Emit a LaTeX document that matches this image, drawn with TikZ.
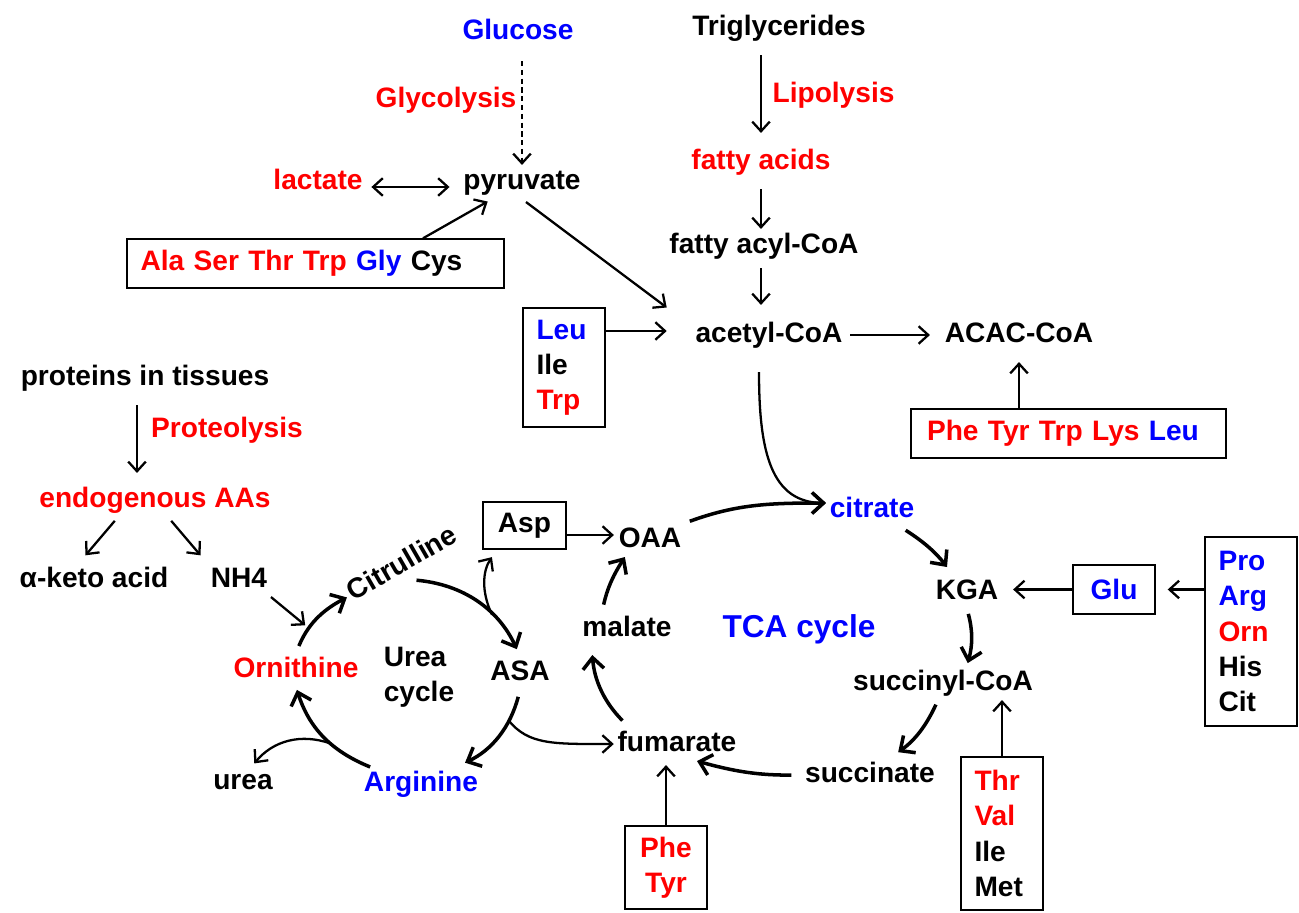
\documentclass[tikz,border=0pt]{standalone}
\usepackage{fontspec}
\setmainfont{Liberation Sans}
\usetikzlibrary{arrows.meta}

\begin{document}
\begin{tikzpicture}[x=1cm,y=1cm,
  font=\bfseries\fontsize{16}{20}\selectfont,
  >={Straight Barb[length=5.5pt,width=10pt]},
  lbl/.style={inner sep=2pt, text height=11.5pt, text depth=3.5pt},
  aabox/.style={draw, line width=0.8pt, inner xsep=0.27cm, inner ysep=0pt},
  flow/.style={line width=1.3pt, ->},
  cyc/.style={line width=2pt, -{Straight Barb[length=6.5pt,width=12pt]}}]
\useasboundingbox (0,0) rectangle (25.98,-18.24);

% sources at the top
\node[lbl, blue] (glucose) at (10.36,-0.64) {Glucose};
\node[lbl, red] (glycolysis) at (8.92,-2.0) {Glycolysis};
\node[lbl] (pyruvate) at (10.44,-3.64) {pyruvate};
\node[lbl, red] (lactate) at (6.36,-3.64) {lactate};
\node[aabox, text width=7.0cm, align=left, minimum height=0.98cm] (alabox) at (6.31,-5.27) {\textcolor{red}{Ala Ser Thr Trp} \textcolor{blue}{Gly} Cys};
\node[lbl] (triglycerides) at (15.58,-0.56) {Triglycerides};
\node[lbl, red] (lipolysis) at (16.67,-1.9) {Lipolysis};
\node[lbl, red] (fattyacids) at (15.22,-3.24) {fatty acids};
\node[lbl] (fattyacyl) at (15.28,-4.92) {fatty acyl-CoA};
\node[lbl] (acetylcoa) at (15.38,-6.7) {acetyl-CoA};
\node[lbl] (acaccoa) at (20.38,-6.7) {ACAC-CoA};
\node[aabox, text width=1.1cm, align=left, minimum height=2.38cm] (leubox) at (11.28,-7.35) {\textcolor{blue}{Leu}\\Ile\\\textcolor{red}{Trp}};
\node[aabox, inner xsep=0.32cm, text width=5.66cm, align=left, minimum height=0.98cm] (phebox) at (21.37,-8.67) {\textcolor{red}{Phe Tyr Trp Lys} \textcolor{blue}{Leu}};

% proteins
\node[lbl] (proteins) at (2.9,-7.56) {proteins in tissues};
\node[lbl, red] (proteolysis) at (4.54,-8.6) {Proteolysis};
\node[lbl, red] (endogenous) at (3.1,-10.0) {endogenous AAs};
\node[lbl] (ketoacid) at (1.88,-11.6) {α-keto acid};
\node[lbl] (nh4) at (4.78,-11.6) {NH4};

% urea cycle
\node[lbl, rotate=30] (citrulline) at (8.06,-11.3) {Citrulline};
\node[lbl, red] (ornithine) at (5.92,-13.4) {Ornithine};
\node[align=left, inner sep=0pt] (ureacycle) at (8.38,-13.54) {Urea\\cycle};
\node[lbl] (asa) at (10.4,-13.46) {ASA};
\node[lbl, blue] (arginine) at (8.42,-15.68) {Arginine};
\node[lbl] (urea) at (4.86,-15.64) {urea};
\node[aabox, text width=1.12cm, align=center, minimum height=0.94cm] (aspbox) at (10.49,-10.51) {Asp};

% TCA cycle
\node[lbl] (oaa) at (13.0,-10.8) {OAA};
\node[lbl, blue] (citrate) at (17.44,-10.2) {citrate};
\node[lbl] (kga) at (19.34,-11.84) {KGA};
\node[lbl] (succinylcoa) at (18.86,-13.66) {succinyl-CoA};
\node[lbl] (succinate) at (17.4,-15.5) {succinate};
\node[lbl] (fumarate) at (13.54,-14.88) {fumarate};
\node[lbl] (malate) at (12.54,-12.58) {malate};
\node[lbl, blue, font=\bfseries\fontsize{18}{22}\selectfont] (tca) at (15.98,-12.6) {TCA cycle};
\node[aabox, text width=1.1cm, align=center, minimum height=0.98cm] (glubox) at (22.28,-11.79) {\textcolor{blue}{Glu}};
\node[aabox, text width=1.3cm, align=left, minimum height=3.78cm] (probox) at (25.02,-12.63) {\textcolor{blue}{Pro}\\\textcolor{blue}{Arg}\\\textcolor{red}{Orn}\\His\\Cit};
\node[aabox, text width=1.1cm, align=left, minimum height=3.06cm] (thrbox) at (20.04,-16.67) {\textcolor{red}{Thr}\\\textcolor{red}{Val}\\Ile\\Met};
\node[aabox, text width=1.1cm, align=center, minimum height=1.66cm] (phetyrbox) at (13.32,-17.35) {\textcolor{red}{Phe}\\\textcolor{red}{Tyr}};

% arrows at the top
\draw[flow, dash pattern=on 3pt off 2pt, shorten <=0.24cm] (pyruvate.north |- glucose.south) -- (pyruvate.north);
\draw[flow, <->, shorten <=0.1cm, shorten >=0.2cm] ([yshift=-0.1cm]lactate.east) -- ([yshift=-0.1cm]pyruvate.west);
\draw[flow, shorten >=0.1cm] ([xshift=2.15cm]alabox.north) -- ([xshift=-0.6cm]pyruvate.south);
\draw[flow, shorten <=0.1cm] (pyruvate.south) -- ([xshift=-0.5cm,yshift=0.55cm]acetylcoa.west);
\draw[flow, shorten <=0.2cm, shorten >=0.24cm] (fattyacids.north |- triglycerides.south) -- (fattyacids.north);
\draw[flow, shorten <=0.2cm] (fattyacids.south) -- (fattyacids.south |- fattyacyl.north);
\draw[flow, shorten <=0.1cm, shorten >=0.26cm] (fattyacids.south |- fattyacyl.south) -- (fattyacids.south |- acetylcoa.north);
\draw[flow, shorten >=0.5cm] ([yshift=0.08cm]leubox.east |- acetylcoa) -- ([yshift=0.08cm]acetylcoa.west);
\draw[flow, shorten <=0.08cm, shorten >=0.22cm] (acetylcoa) -- (acaccoa);
\draw[flow, shorten >=0.2cm] (acaccoa.south |- phebox.north) -- (acaccoa.south);
\draw[flow, shorten <=0.4cm] ([xshift=-0.2cm]acetylcoa.south) .. controls +(0,-2) and +(-1.1,0) .. ([yshift=0.14cm]citrate.west);

% proteins to amino acids
\draw[flow, shorten <=0.2cm, shorten >=0.2cm] ([xshift=-0.16cm]proteins.south) -- ([xshift=-0.16cm]proteins.south |- endogenous.north);
\draw[flow, shorten <=0.1cm, shorten >=0.2cm] ([xshift=-0.74cm]endogenous.south) -- ([xshift=-0.3cm]ketoacid.north);
\draw[flow, shorten <=0.1cm, shorten >=0.2cm] ([xshift=0.26cm]endogenous.south) -- ([xshift=-0.64cm]nh4.north);

% urea cycle arrows
\draw[cyc, shorten <=0.15cm] (ornithine.north) to[bend left=20] coordinate[pos=0.35] (nhjoin) (citrulline.west);
\draw[flow, shorten >=0.1cm] (nh4.south east) -- (nhjoin);
\draw[cyc, shorten <=0.1cm, shorten >=0.15cm] (citrulline.south) to[bend left=30] coordinate[pos=0.65] (toasp) (asa.north);
\draw[flow, shorten >=0.18cm] (toasp) to[bend left=30] ([xshift=-0.55cm]aspbox.south);
\draw[flow, shorten >=0.02cm] ([yshift=0.1cm]aspbox.east |- oaa) -- ([yshift=0.1cm]oaa.west);
\draw[cyc, shorten <=0.14cm, shorten >=0.2cm] (asa.south) to[bend left=25] coordinate[pos=0.3] (tofum) ([xshift=0.7cm]arginine.north);
\draw[flow] (tofum) .. controls +(0.4,-0.5) and +(-1.2,0) .. (fumarate.west);
\draw[cyc, shorten >=0.06cm] ([xshift=0.2cm]arginine.north west) to[bend left=25] coordinate[pos=0.4] (tourea) (ornithine.south);
\draw[flow, shorten >=0.04cm] (tourea) to[bend right=35] ([xshift=0.2cm]urea.north);

% TCA cycle arrows
\draw[cyc, shorten <=0.1cm] (oaa.north east) to[out=20,in=180] ([yshift=0.14cm]citrate.west);
\draw[cyc, shorten <=0.12cm, shorten >=0.2cm] (citrate) to[bend left=10] (kga);
\draw[cyc, shorten <=0.1cm, shorten >=0.06cm] (kga.south) to[bend left=15] (kga.south |- succinylcoa.north);
\draw[cyc, shorten <=0.1cm, shorten >=0.2cm] ([xshift=-0.1cm]succinylcoa.south) to[bend left=15] ([xshift=0.4cm]succinate.north);
\draw[cyc, shorten <=0.2cm] (succinate.west) to[bend left=8] ([xshift=0.4cm]fumarate.south);
\draw[cyc, shorten <=0.18cm, shorten >=0.18cm] ([xshift=0.3cm]fumarate.north west) to[bend left=20] ([xshift=0.26cm]malate.south west);
\draw[cyc, shorten <=0.15cm] ([xshift=-0.5cm]malate.north) to[bend left=10] ([xshift=0.2cm]oaa.south west);

% inputs to the TCA cycle
\draw[flow, shorten >=0.22cm] (glubox.west) -- (glubox.west -| kga.east);
\draw[flow, shorten >=0.24cm] (probox.west |- glubox) -- (glubox.east);
\draw[flow] (thrbox.north) -- (thrbox.north |- succinylcoa.south);
\draw[flow, shorten >=0.08cm] (phetyrbox.north) -- (phetyrbox.north |- fumarate.south);
\end{tikzpicture}
\end{document}
